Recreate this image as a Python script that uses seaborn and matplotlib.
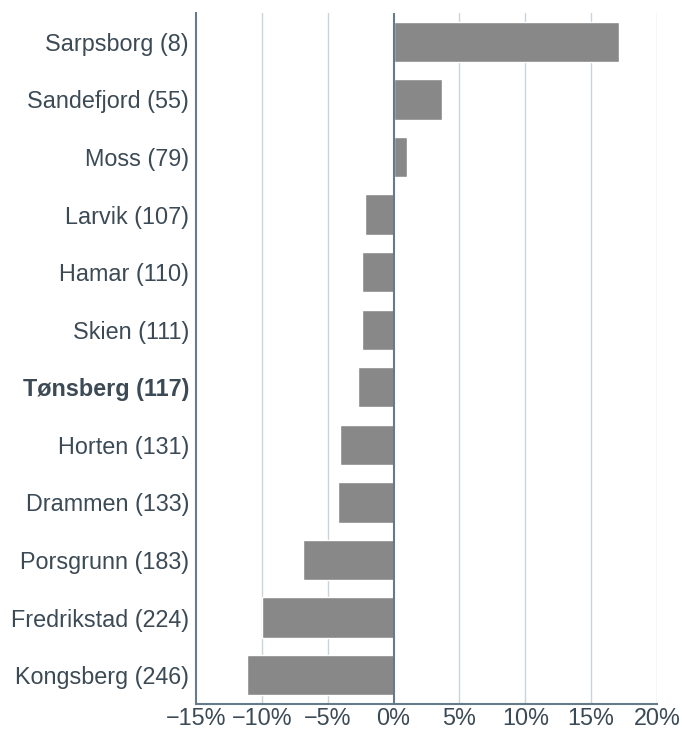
import numpy as np
import pandas as pd
import seaborn as sns
import matplotlib.pyplot as plt
from matplotlib.ticker import FuncFormatter

# data
cities = ['Sarpsborg (8)', 'Sandefjord (55)', 'Moss (79)', 'Larvik (107)', 'Hamar (110)',
          'Skien (111)', 'Tønsberg (117)', 'Horten (131)', 'Drammen (133)',
          'Porsgrunn (183)', 'Fredrikstad (224)', 'Kongsberg (246)']
change = [17.1, 3.7, 1.0, -2.15, -2.4, -2.4, -2.7, -4.1, -4.2, -6.9, -10.0, -11.1]
highlight = 'Tønsberg (117)'

df = pd.DataFrame({'city': cities, 'change': change})

sns.set_style('white')
plt.rcParams['font.family'] = ['Liberation Sans', 'DejaVu Sans']

axis_col = '#647c8a'
text_col = '#3b4a55'
grid_col = '#c9d3da'

fig = plt.figure(figsize=(6.82, 7.31), dpi=100)
ax = fig.add_axes([196/682, 1-704/731, (657-196)/682, (704-13)/731])

for x in [-10, -5, 5, 10, 15, 20]:
    ax.axvline(x, color=grid_col, lw=1, zorder=0)

sns.barplot(data=df, x='change', y='city', orient='h', color='#888888',
            saturation=1, width=0.7, ax=ax, zorder=2)
ax.axvline(0, color=axis_col, lw=1.5, zorder=3)

ax.set_xlim(-15, 20)
ax.set_xticks([-15, -10, -5, 0, 5, 10, 15, 20])
ax.xaxis.set_major_formatter(FuncFormatter(lambda v, p: f'{v:.0f}%'.replace('-', '\u2212')))
ax.set_xlabel('')
ax.set_ylabel('')

for s in ['top', 'right']:
    ax.spines[s].set_visible(False)
for s in ['left', 'bottom']:
    ax.spines[s].set_color(axis_col)
    ax.spines[s].set_linewidth(1.5)

ax.tick_params(axis='both', length=0, labelsize=16.8, colors=text_col)
ax.tick_params(axis='y', pad=5)
ax.tick_params(axis='x', pad=2)
for lab in ax.get_yticklabels():
    if lab.get_text() == highlight:
        lab.set_fontweight('bold')

plt.savefig('out.png', dpi=100)
